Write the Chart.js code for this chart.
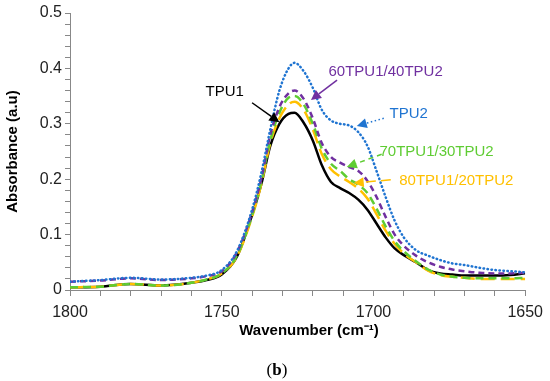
<!DOCTYPE html>
<html>
<head>
<meta charset="utf-8">
<script src="https://cdn.jsdelivr.net/npm/chart.js@4/dist/chart.umd.min.js"></script>
<style>
  html, body { margin: 0; padding: 0; background: #fff; }
  #wrap { width: 550px; height: 381px; position: relative; }
</style>
</head>
<body>
<div id="wrap"><canvas id="ftir" width="550" height="381"></canvas></div>
<script>
// wavenumber (cm-1) sample positions
const wavenumbers = [1800, 1790, 1780, 1770, 1760, 1755, 1750, 1745, 1740, 1737, 1734, 1731, 1728, 1726, 1723, 1720, 1717, 1714, 1711, 1708, 1705, 1702, 1699, 1696, 1693, 1690, 1686, 1682, 1678, 1674, 1670, 1665, 1660, 1655, 1650];

const tpu1    = [0.005, 0.006, 0.011, 0.008, 0.013, 0.018, 0.028, 0.060, 0.135, 0.190, 0.260, 0.300, 0.318, 0.320, 0.302, 0.270, 0.225, 0.195, 0.184, 0.175, 0.163, 0.145, 0.120, 0.095, 0.075, 0.063, 0.050, 0.036, 0.030, 0.028, 0.026, 0.026, 0.026, 0.027, 0.030];
const tpu2    = [0.015, 0.018, 0.022, 0.019, 0.022, 0.026, 0.036, 0.070, 0.145, 0.210, 0.290, 0.360, 0.400, 0.410, 0.395, 0.365, 0.325, 0.306, 0.300, 0.297, 0.285, 0.260, 0.215, 0.168, 0.125, 0.095, 0.072, 0.062, 0.054, 0.048, 0.045, 0.040, 0.036, 0.034, 0.032];
const blend60 = [0.015, 0.017, 0.021, 0.018, 0.021, 0.025, 0.034, 0.068, 0.140, 0.200, 0.280, 0.330, 0.355, 0.360, 0.345, 0.310, 0.265, 0.240, 0.230, 0.222, 0.215, 0.197, 0.168, 0.132, 0.100, 0.080, 0.062, 0.050, 0.042, 0.037, 0.034, 0.031, 0.030, 0.030, 0.031];
const blend70 = [0.005, 0.006, 0.011, 0.008, 0.013, 0.019, 0.030, 0.062, 0.135, 0.195, 0.270, 0.320, 0.347, 0.350, 0.335, 0.300, 0.255, 0.228, 0.215, 0.200, 0.190, 0.175, 0.147, 0.115, 0.088, 0.070, 0.052, 0.037, 0.028, 0.024, 0.022, 0.021, 0.021, 0.021, 0.022];
const blend80 = [0.005, 0.006, 0.011, 0.008, 0.013, 0.019, 0.030, 0.060, 0.132, 0.190, 0.265, 0.310, 0.335, 0.340, 0.325, 0.290, 0.245, 0.218, 0.205, 0.195, 0.183, 0.165, 0.137, 0.107, 0.083, 0.066, 0.050, 0.035, 0.027, 0.024, 0.022, 0.020, 0.020, 0.020, 0.020];

const xMajor = [1800, 1750, 1700, 1650];
const yMajor = [0, 0.1, 0.2, 0.3, 0.4, 0.5];

const pts = (arr) => wavenumbers.map((w, i) => ({ x: w, y: arr[i] }));

// callout labels, in data units
const callouts = [
    { text: 'TPU1', color: '#000000', dash: [], tx: 1749, ty: 0.357, x1: 1740, y1: 0.338, x2: 1731, y2: 0.303 },
    { text: '60TPU1/40TPU2', color: '#7030A0', dash: [], tx: 1696, ty: 0.393, x1: 1712, y1: 0.379, x2: 1720.6, y2: 0.343 },
    { text: 'TPU2', color: '#1F74D1', dash: [1.5, 2.5], tx: 1688.4, ty: 0.318, x1: 1696.6, y1: 0.310, x2: 1705.5, y2: 0.296 },
    { text: '70TPU1/30TPU2', color: '#5FCC33', dash: [5, 4], tx: 1679.2, ty: 0.249, x1: 1697.3, y1: 0.245, x2: 1708.8, y2: 0.222 },
    { text: '80TPU1/20TPU2', color: '#FFC000', dash: [10, 5], tx: 1672.7, ty: 0.197, x1: 1694.3, y1: 0.199, x2: 1706.5, y2: 0.193 }
];

const calloutPlugin = {
    id: 'callouts',
    afterDatasetsDraw(chart) {
        const c = chart.ctx;
        const xs = chart.scales.x, ys = chart.scales.y;
        c.save();
        callouts.forEach(a => {
            const x1 = xs.getPixelForValue(a.x1), y1 = ys.getPixelForValue(a.y1);
            const x2 = xs.getPixelForValue(a.x2), y2 = ys.getPixelForValue(a.y2);
            const ang = Math.atan2(y2 - y1, x2 - x1);
            const hl = 10, hw = 5;
            const bx = x2 - hl * Math.cos(ang), by = y2 - hl * Math.sin(ang);
            c.strokeStyle = a.color;
            c.fillStyle = a.color;
            c.lineWidth = 1.5;
            c.setLineDash(a.dash);
            c.beginPath();
            c.moveTo(x1, y1);
            c.lineTo(bx, by);
            c.stroke();
            c.setLineDash([]);
            c.beginPath();
            c.moveTo(x2, y2);
            c.lineTo(bx + hw * Math.sin(ang), by - hw * Math.cos(ang));
            c.lineTo(bx - hw * Math.sin(ang), by + hw * Math.cos(ang));
            c.closePath();
            c.fill();

            c.font = '15px "Liberation Sans", Arial, sans-serif';
            c.textAlign = 'center';
            c.textBaseline = 'middle';
            c.fillText(a.text, xs.getPixelForValue(a.tx), ys.getPixelForValue(a.ty));
        });

        // x axis title (sits a little right of the axis centre, as in the source)
        c.fillStyle = '#000';
        c.textBaseline = 'middle';
        c.textAlign = 'center';
        c.font = 'bold 15px "Liberation Sans", Arial, sans-serif';
        c.fillText('Wavenumber (cm⁻¹)', 309, 331);

        // panel letter: (b) with bold b
        const serif = '"Liberation Serif", "Times New Roman", serif';
        const parts = [['(', 'normal 17px ' + serif], ['b', 'bold 17px ' + serif], [')', 'normal 17px ' + serif]];
        let w = 0;
        parts.forEach(p => { c.font = p[1]; w += c.measureText(p[0]).width; });
        let px = 277 - w / 2;
        c.textAlign = 'left';
        parts.forEach(p => { c.font = p[1]; c.fillText(p[0], px, 371); px += c.measureText(p[0]).width; });
        c.restore();
    }
};

const ctx = document.getElementById('ftir').getContext('2d');
const ftir = new Chart(ctx, {
    type: 'line',
    data: {
        datasets: [
            { label: 'TPU2', data: pts(tpu2), borderColor: '#1F74D1', borderWidth: 2.5, borderDash: [0.5, 3.5], borderCapStyle: 'round' },
            { label: '60TPU1/40TPU2', data: pts(blend60), borderColor: '#7030A0', borderWidth: 2.5, borderDash: [6, 4] },
            { label: '70TPU1/30TPU2', data: pts(blend70), borderColor: '#5FCC33', borderWidth: 2.5, borderDash: [8, 5] },
            { label: '80TPU1/20TPU2', data: pts(blend80), borderColor: '#FFC000', borderWidth: 2.5, borderDash: [14, 6] },
            { label: 'TPU1', data: pts(tpu1), borderColor: '#000000', borderWidth: 2.5 }
        ]
    },
    options: {
        responsive: false,
        animation: false,
        layout: { padding: { top: 13, right: 23, left: 0, bottom: 0 } },
        elements: {
            point: { radius: 0 },
            line: { cubicInterpolationMode: 'monotone', fill: false }
        },
        plugins: { legend: { display: false }, tooltip: { enabled: false } },
        scales: {
            x: {
                type: 'linear',
                reverse: true,
                min: 1650,
                max: 1800,
                afterFit: (s) => { s.height = 91; },
                ticks: {
                    stepSize: 10,
                    autoSkip: false,
                    maxRotation: 0,
                    padding: 7,
                    color: '#222',
                    font: { family: '"Liberation Sans", Arial, sans-serif', size: 16 },
                    callback: (v) => xMajor.includes(v) ? String(v) : ''
                },
                grid: { drawOnChartArea: false, tickLength: 6, color: '#888' },
                border: { color: '#888', width: 1 }
            },
            y: {
                min: 0,
                max: 0.5,
                afterFit: (s) => { s.width = 70; },
                ticks: {
                    stepSize: 0.02,
                    autoSkip: false,
                    padding: 3,
                    color: '#222',
                    font: { family: '"Liberation Sans", Arial, sans-serif', size: 16 },
                    callback: (v) => {
                        const m = yMajor.find(t => Math.abs(t - v) < 1e-6);
                        return m === undefined ? '' : String(m);
                    }
                },
                grid: { drawOnChartArea: false, tickLength: 5, color: '#888' },
                border: { color: '#888', width: 1 },
                title: {
                    display: true,
                    text: 'Absorbance (a.u)',
                    color: '#000',
                    font: { family: '"Liberation Sans", Arial, sans-serif', size: 15, weight: 'bold' },
                    padding: { bottom: 4 }
                }
            }
        }
    },
    plugins: [calloutPlugin]
});
</script>
</body>
</html>
